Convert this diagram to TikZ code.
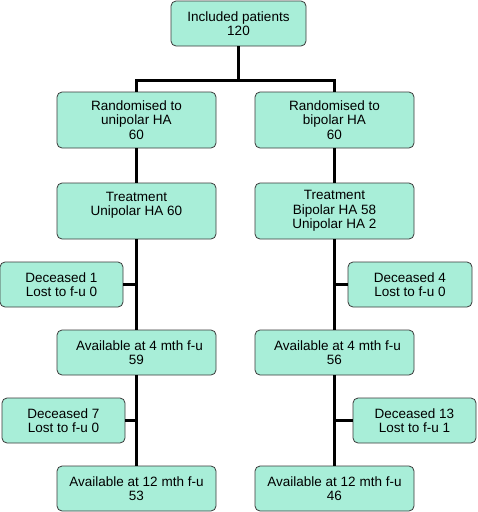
\documentclass[tikz,border=0pt]{standalone}
\usepackage{fontspec}
\setmainfont{Liberation Sans}
\definecolor{boxFill}{HTML}{A8EED8}
\definecolor{boxLine}{HTML}{3A3A3A}
\usetikzlibrary{calc}

\tikzset{
  flowbox/.style={draw=boxLine, fill=boxFill, rounded corners=5pt, line width=0.8pt,
    align=center, inner sep=0pt, font=\fontsize{13.5}{14.5}\selectfont},
  mainbox/.style={flowbox, minimum width=159pt, minimum height=45pt},
  sidebox/.style={flowbox, minimum width=123pt, minimum height=45pt},
  link/.style={line width=2.6pt, black}
}

\begin{document}
\begin{tikzpicture}[x=1pt, y=-1pt]
  \useasboundingbox (0,0) rectangle (478,512);

  \node[flowbox, minimum width=135pt, minimum height=45pt] (incl) at (238.5,23.5) {Included patients\\120};

  \node[mainbox, minimum height=56pt] (randUni) at (136.5,120) {Randomised to\\unipolar HA\\60};
  \node[mainbox, minimum height=56pt] (randBi) at (334.5,120) {Randomised to\\bipolar HA\\60};

  \node[mainbox, minimum height=56pt] (treatUni) at (136.5,211) {Treatment\\Unipolar HA 60\\\mbox{}};
  \node[mainbox, minimum height=56pt] (treatBi) at (334.5,211) {Treatment\\Bipolar HA 58\\Unipolar HA 2};

  \node[sidebox] (deadUniA) at (61.5,284.5) {Deceased 1\\Lost to f-u 0};
  \node[sidebox, minimum width=124pt] (deadBiA) at (410,284.5) {Deceased 4\\Lost to f-u 0};

  \node[mainbox] (availUniA) at (136.5,352.5) {\hspace*{6pt}Available at 4 mth f-u\\59};
  \node[mainbox] (availBiA) at (334.5,352.5) {\hspace*{6pt}Available at 4 mth f-u\\56};

  \node[sidebox] (deadUniB) at (63.5,420.5) {Deceased 7\\Lost to f-u 0};
  \node[sidebox] (deadBiB) at (414.5,420.5) {Deceased 13\\Lost to f-u 1};

  \node[mainbox] (availUniB) at (136.5,488.5) {Available at 12 mth f-u\\53};
  \node[mainbox] (availBiB) at (334.5,488.5) {Available at 12 mth f-u\\46};

  % split after inclusion
  \coordinate (split) at ($(incl.south)+(0,34)$);
  \draw[link] (incl.south) -- (split);
  \draw[link] (randUni.north) |- (split) -| (randBi.north);

  % left arm
  \draw[link] (randUni) -- (treatUni);
  \draw[link] (treatUni) -- (availUniA);
  \draw[link] (availUniA) -- (availUniB);
  \draw[link] (deadUniA.east) -- (deadUniA.east -| treatUni.south);
  \draw[link] (deadUniB.east) -- (deadUniB.east -| availUniA.south);

  % right arm
  \draw[link] (randBi) -- (treatBi);
  \draw[link] (treatBi) -- (availBiA);
  \draw[link] (availBiA) -- (availBiB);
  \draw[link] (deadBiA.west) -- (deadBiA.west -| treatBi.south);
  \draw[link] (deadBiB.west) -- (deadBiB.west -| availBiA.south);
\end{tikzpicture}
\end{document}
